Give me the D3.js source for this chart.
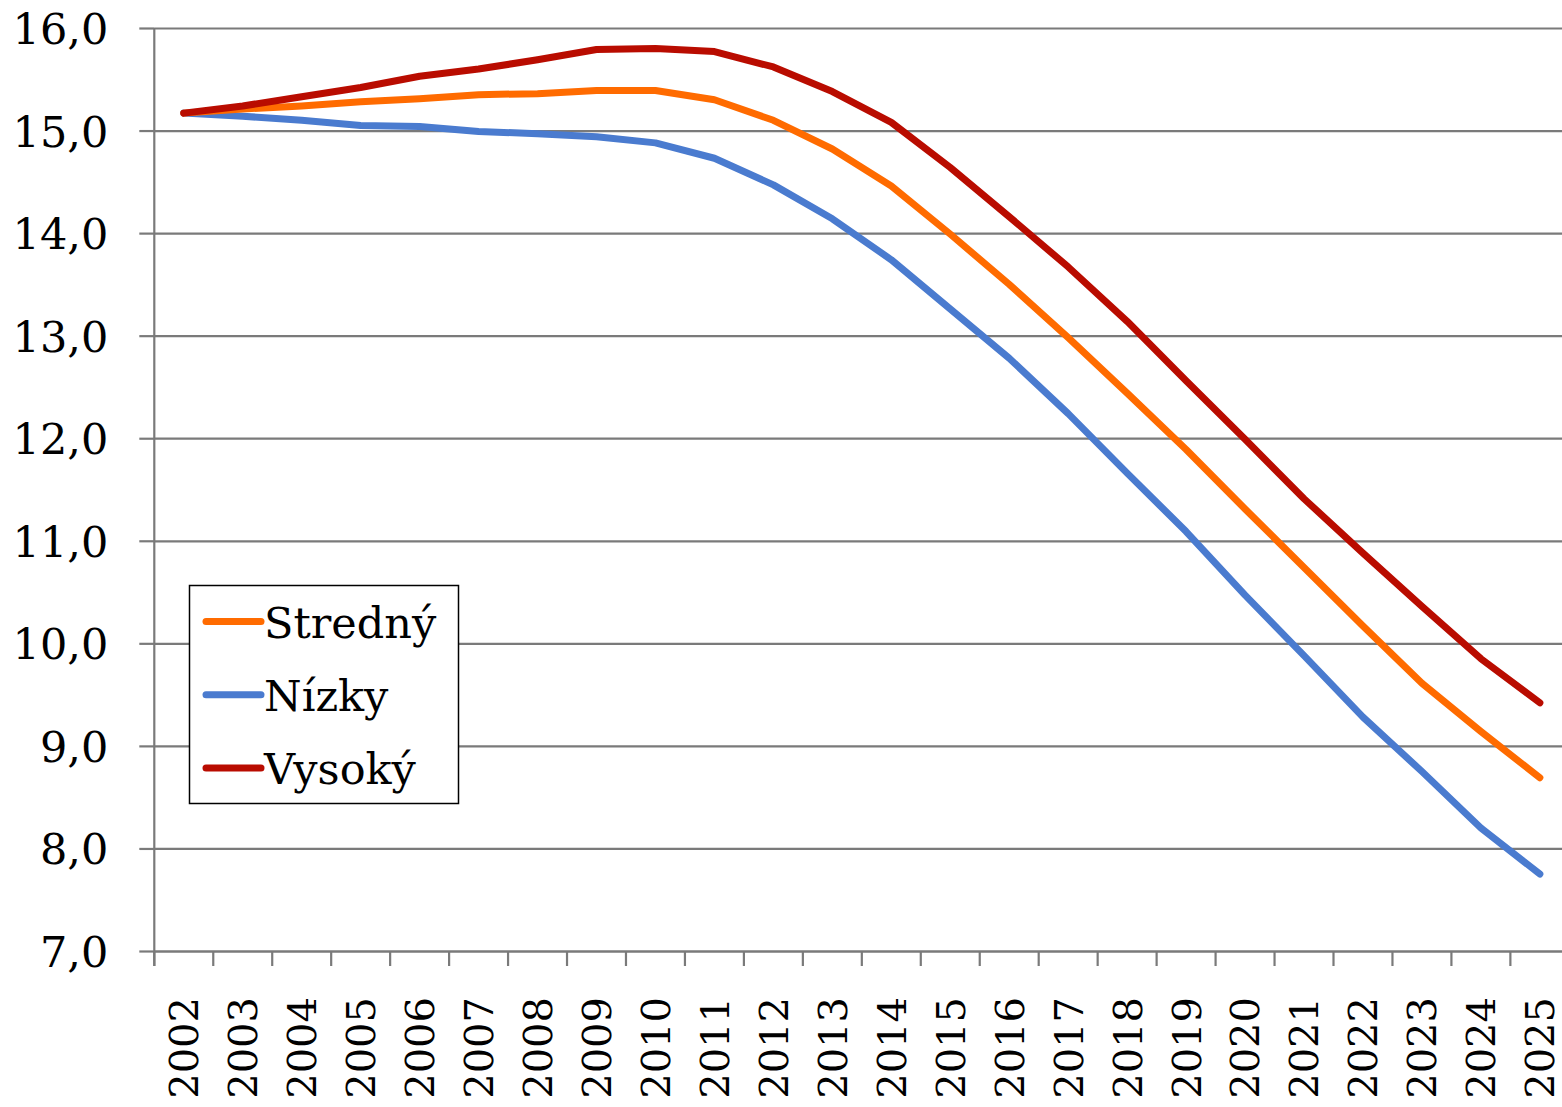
<!DOCTYPE html>
<html>
<head>
<meta charset="utf-8">
<script src="https://cdn.jsdelivr.net/npm/d3@7"></script>
<style>
  html, body { margin: 0; padding: 0; background: #fff; }
  svg { display: block; overflow: hidden; }
  .axis text { font-family: "DejaVu Serif", serif; fill: #000; }
  .axis path, .axis line { stroke: #7a7a7a; stroke-width: 2.2; }
</style>
</head>
<body>
<div id="chart-area"></div>
<script>
const years = ['2002', '2003', '2004', '2005', '2006', '2007', '2008', '2009', '2010', '2011', '2012', '2013',
  '2014', '2015', '2016', '2017', '2018', '2019', '2020', '2021', '2022', '2023', '2024', '2025'];
const stredny = [15.17, 15.21, 15.24, 15.28, 15.31, 15.35, 15.36, 15.39, 15.39, 15.30, 15.10, 14.82,
  14.46, 13.99, 13.50, 12.98, 12.44, 11.89, 11.31, 10.74, 10.17, 9.61, 9.14, 8.69];
const nizky = [15.17, 15.14, 15.10, 15.05, 15.04, 14.99, 14.97, 14.94, 14.88, 14.73, 14.47, 14.14,
  13.74, 13.26, 12.78, 12.24, 11.66, 11.09, 10.47, 9.88, 9.28, 8.75, 8.20, 7.75];
const vysoky = [15.17, 15.24, 15.33, 15.42, 15.53, 15.60, 15.69, 15.79, 15.80, 15.77, 15.62, 15.38,
  15.08, 14.64, 14.16, 13.67, 13.14, 12.56, 11.99, 11.41, 10.88, 10.36, 9.85, 9.42];
const yTicks = [7, 8, 9, 10, 11, 12, 13, 14, 15, 16];

const seriesNames = ['Stredný', 'Nízky', 'Vysoký'];
const seriesColors = ['#ff6b00', '#4a7bcf', '#b90c00'];
const seriesValues = [stredny, nizky, vysoky];

const chartSize = { width: 1562, height: 1107 };
const plot = { left: 154.3, top: 28, bottom: 951, band: 58.96 };

const main = () => {
  const svg = d3.select('#chart-area').append('svg')
    .attr('width', chartSize.width)
    .attr('height', chartSize.height);

  const x = d3.scaleBand()
    .domain(years)
    .range([plot.left, plot.left + plot.band * years.length]);

  const y = d3.scaleLinear()
    .domain([7, 16])
    .range([plot.bottom, plot.top]);

  // horizontal gridlines
  svg.append('g')
    .attr('class', 'grid axis')
    .attr('transform', `translate(${plot.left},0)`)
    .call(d3.axisRight(y).tickValues(yTicks).tickSize(x.range()[1] - plot.left).tickFormat(''))
    .call(g => g.select('.domain').remove());

  // y axis
  svg.append('g')
    .attr('class', 'y axis')
    .attr('transform', `translate(${plot.left},0)`)
    .call(d3.axisLeft(y).tickValues(yTicks).tickSize(15).tickPadding(31).tickSizeOuter(0)
      .tickFormat(d => d3.format('.1f')(d).replace('.', ',')))
    .call(g => g.selectAll('text').attr('font-size', 43).attr('dy', '0.36em'));

  svg.select('.y.axis .domain').attr('d', `M0,${plot.top}V${plot.bottom + 15}`);

  // x axis: labels at band centres, ticks at band edges
  const xAxisG = svg.append('g')
    .attr('class', 'x axis')
    .attr('transform', `translate(0,${plot.bottom})`)
    .call(d3.axisBottom(x).tickSize(0).tickSizeOuter(0));

  xAxisG.selectAll('text')
    .attr('font-size', 40)
    .attr('transform', 'rotate(-90)')
    .attr('text-anchor', 'end')
    .attr('x', -46)
    .attr('y', 0)
    .attr('dy', '0.36em');

  xAxisG.selectAll('.edge')
    .data(years)
    .enter().append('line')
    .attr('class', 'edge')
    .attr('x1', d => x(d))
    .attr('x2', d => x(d))
    .attr('y1', 0)
    .attr('y2', 15);

  const line = d3.line()
    .x((d, i) => x(years[i]) + x.bandwidth() / 2)
    .y(d => y(d));

  // draw low, middle, high so the high series sits on top
  [1, 0, 2].forEach(k => {
    svg.append('path')
      .datum(seriesValues[k])
      .attr('fill', 'none')
      .attr('stroke', seriesColors[k])
      .attr('stroke-width', 7)
      .attr('stroke-linejoin', 'round')
      .attr('stroke-linecap', 'round')
      .attr('d', line);
  });

  // legend
  const legend = svg.append('g').attr('class', 'legend');
  legend.append('rect')
    .attr('x', 189.5).attr('y', 585.5)
    .attr('width', 269).attr('height', 218)
    .attr('fill', '#fff')
    .attr('stroke', '#000')
    .attr('stroke-width', 1.5);

  const items = legend.selectAll('.item')
    .data(seriesNames)
    .enter().append('g')
    .attr('class', 'item')
    .attr('transform', (d, i) => `translate(0,${621.5 + i * 73.3})`);

  items.append('line')
    .attr('x1', 206).attr('x2', 261)
    .attr('stroke', (d, i) => seriesColors[i])
    .attr('stroke-width', 7)
    .attr('stroke-linecap', 'round');

  items.append('text')
    .attr('x', 264)
    .attr('y', 16)
    .attr('font-family', '"DejaVu Serif", serif')
    .attr('font-size', 43)
    .text(d => d);
};

window.onload = main;
</script>
</body>
</html>
